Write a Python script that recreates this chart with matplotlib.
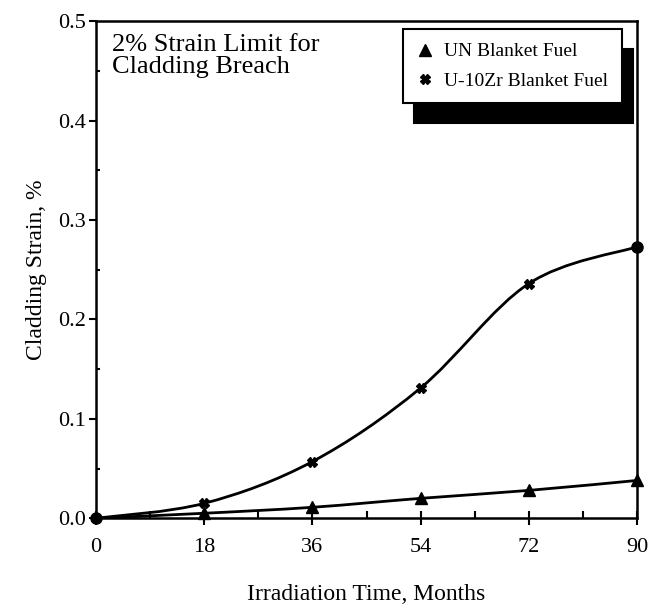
import numpy as np
import matplotlib
matplotlib.use("Agg")
import matplotlib.pyplot as plt
from matplotlib.path import Path
from matplotlib.patches import PathPatch

plt.rcParams['font.family'] = ['Liberation Serif', 'DejaVu Serif']

months = [0, 18, 36, 54, 72, 90]
strain_un = [0.0, 0.005, 0.011, 0.020, 0.028, 0.038]
strain_uzr = [0.0, 0.015, 0.057, 0.131, 0.236, 0.273]


def smooth_path(ax, xs, ys):
    # Catmull-Rom -> cubic bezier, in data coords
    pts = np.column_stack([xs, ys]).astype(float)
    verts = [pts[0]]
    codes = [Path.MOVETO]
    n = len(pts)
    for i in range(n - 1):
        p0 = pts[i - 1] if i > 0 else pts[i]
        p1 = pts[i]
        p2 = pts[i + 1]
        p3 = pts[i + 2] if i + 2 < n else pts[i + 1]
        c1 = p1 + (p2 - p0) / 6.0
        c2 = p2 - (p3 - p1) / 6.0
        verts += [c1, c2, p2]
        codes += [Path.CURVE4] * 3
    patch = PathPatch(Path(verts, codes), fill=False, lw=2.0, color='black',
                      capstyle='round', joinstyle='round')
    ax.add_patch(patch)


fig = plt.figure(figsize=(6.58, 6.04), dpi=100)
ax = fig.add_axes([0.146, 0.142, 0.822, 0.823])

smooth_path(ax, months, strain_uzr)
smooth_path(ax, months, strain_un)

un_line, = ax.plot(months[1:], strain_un[1:], linestyle='none', marker='^',
                   color='black', markersize=9, clip_on=False)
uzr_line, = ax.plot(months[1:-1], strain_uzr[1:-1], linestyle='none', marker='X',
                    color='black', markersize=7)
ax.plot(months[-1:], strain_uzr[-1:], linestyle='none', marker='o',
        color='black', markersize=8, clip_on=False)
ax.plot(months[:1], strain_uzr[:1], linestyle='none', marker='o',
        color='black', markersize=8, clip_on=False)

ax.set_xlim(0, 90)
ax.set_ylim(0, 0.5)
ax.set_xticks(months)
ax.set_xticks(np.arange(9, 90, 18), minor=True)
ax.set_yticks([0.0, 0.1, 0.2, 0.3, 0.4, 0.5])
ax.set_yticks(np.arange(0.05, 0.5, 0.1), minor=True)
ax.set_yticklabels(['0.0', '0.1', '0.2', '0.3', '0.4', '0.5'])

ax.tick_params(axis='x', which='major', direction='inout', length=10, width=1.5,
               labelsize=16, pad=9)
ax.tick_params(axis='x', which='minor', direction='in', length=5, width=1.5)
ax.tick_params(axis='y', which='major', direction='out', length=5, width=1.5,
               labelsize=16, pad=2)
ax.tick_params(axis='y', which='minor', direction='in', length=3, width=1.5)

for s in ax.spines.values():
    s.set_linewidth(1.8)

ax.set_xlabel('Irradiation Time, Months', fontsize=17, labelpad=20)
ax.set_ylabel('Cladding Strain, %', fontsize=17, labelpad=8)

ax.text(0.03, 0.975, '2% Strain Limit for\nCladding Breach', transform=ax.transAxes,
        fontsize=19, va='top', ha='left', linespacing=1.0)

leg = ax.legend([un_line, uzr_line], ['UN Blanket Fuel', 'U-10Zr Blanket Fuel'],
                loc='upper right', bbox_to_anchor=(0.972, 0.984), fontsize=14,
                frameon=True, fancybox=False, edgecolor='black', framealpha=1,
                borderpad=0.7, borderaxespad=0, handletextpad=0.6,
                handlelength=0.8, labelspacing=0.6,
                shadow={'color': 'black', 'alpha': 1, 'ox': 8, 'oy': -14})
leg.get_frame().set_linewidth(1.5)

fig.savefig('out.png', dpi=100)
